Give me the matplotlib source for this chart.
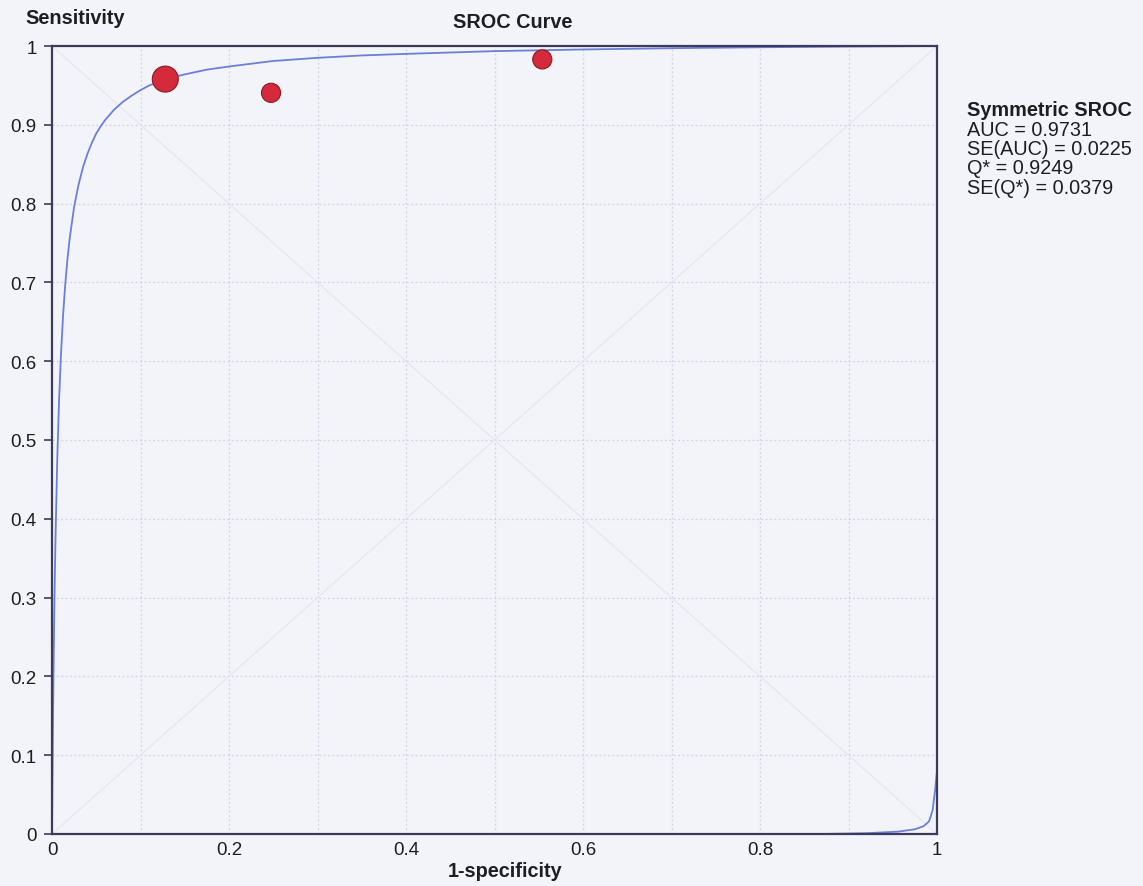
import matplotlib.pyplot as plt
import numpy as np

plt.rcParams['font.family'] = ['Liberation Sans', 'DejaVu Sans']

# SROC curve
fpr_curve = [0, 0.001, 0.002, 0.003, 0.004, 0.006, 0.008, 0.01, 0.0125, 0.015, 0.0175, 0.02,
             0.025, 0.03, 0.035, 0.04, 0.045, 0.05, 0.055, 0.06, 0.07, 0.08, 0.09, 0.1, 0.11,
             0.12, 0.135, 0.15, 0.175, 0.2, 0.25, 0.3, 0.35, 0.4, 0.5, 0.6, 0.7, 0.8, 0.9, 1.0]
tpr_curve = [0, 0.132, 0.233, 0.313, 0.378, 0.478, 0.551, 0.605, 0.658, 0.698, 0.730, 0.756,
             0.796, 0.824, 0.846, 0.863, 0.877, 0.889, 0.898, 0.906, 0.919, 0.929, 0.937, 0.944,
             0.950, 0.954, 0.960, 0.964, 0.970, 0.974, 0.981, 0.985, 0.988, 0.990, 0.9935,
             0.9956, 0.9972, 0.9984, 0.9993, 1.0]

# small tail drawn at the bottom right corner
fpr_tail = [0.87, 0.92, 0.956, 0.975, 0.985, 0.991, 0.995, 0.998, 1.0, 1.0]
tpr_tail = [0, 0.001, 0.003, 0.006, 0.010, 0.016, 0.03, 0.057, 0.08, 0.12]

# studies
study_fpr = [0.128, 0.2475, 0.554]
study_tpr = [0.958, 0.9406, 0.983]
study_size = [350, 190, 190]

stats_lines = ['AUC = 0.9731', 'SE(AUC) = 0.0225', 'Q* = 0.9249', 'SE(Q*) = 0.0379']

bg = '#f3f4f9'
frame = '#3d3a5a'
txt = '#1e1e22'

fig = plt.figure(figsize=(11.43, 8.87), dpi=100, facecolor=bg)
ax = fig.add_axes([52 / 1143, 52 / 887, 885 / 1143, 788 / 887])
ax.set_facecolor(bg)

ticks = np.arange(0, 1.01, 0.1)
for t in ticks[1:-1]:
    ax.axhline(t, color='#d0d3e6', lw=0.9, ls=(0, (1.5, 2)), zorder=0)
    ax.axvline(t, color='#d0d3e6', lw=0.9, ls=(0, (1.5, 2)), zorder=0)
ax.plot([0, 1], [0, 1], color='#e3e5f0', lw=0.8, zorder=0)
ax.plot([0, 1], [1, 0], color='#e3e5f0', lw=0.8, zorder=0)

ax.plot(fpr_curve, tpr_curve, color='#6b7fd6', lw=1.3, zorder=2)
ax.plot(fpr_tail, tpr_tail, color='#6b7fd6', lw=1.3, zorder=2)

ax.scatter(study_fpr, study_tpr, s=study_size, color='#d42a3c', edgecolor='#8a1a25',
           linewidth=0.8, zorder=3, clip_on=False)

ax.set_xlim(0, 1)
ax.set_ylim(0, 1)
for s in ax.spines.values():
    s.set_color(frame)
    s.set_linewidth(1.6)

ax.set_yticks(ticks)
ax.set_yticklabels(['0'] + ['%.1f' % t for t in ticks[1:-1]] + ['1'])
ax.set_xticks([0, 0.2, 0.4, 0.6, 0.8, 1.0])
ax.set_xticklabels(['0', '0.2', '0.4', '0.6', '0.8', '1'])
ax.tick_params(axis='y', length=6, width=1.2, color=frame, labelsize=13.5, pad=5,
               labelcolor=txt)
ax.tick_params(axis='x', length=0, labelsize=13.5, pad=5, labelcolor=txt)

fig.text(25 / 1143, 1 - 19 / 887, 'Sensitivity', fontsize=14.3, fontweight='bold',
         ha='left', va='center', color=txt)
fig.text(513 / 1143, 1 - 23 / 887, 'SROC Curve', fontsize=14.3, fontweight='bold',
         ha='center', va='center', color=txt)
fig.text(505 / 1143, 1 - 872 / 887, '1-specificity', fontsize=14.3, fontweight='bold',
         ha='center', va='center', color=txt)

fig.text(967 / 1143, 1 - 111 / 887, 'Symmetric SROC', fontsize=14.3, fontweight='bold',
         ha='left', va='center', color=txt)
for i, line in enumerate(stats_lines):
    fig.text(967 / 1143, 1 - (130 + 19.5 * i) / 887, line, fontsize=14.3,
             ha='left', va='center', color=txt)

fig.savefig('out.png', dpi=100, facecolor=bg)
